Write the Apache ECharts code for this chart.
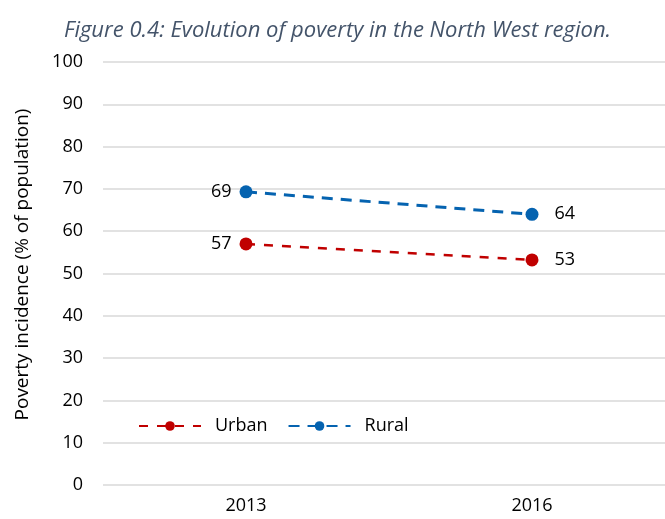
<!DOCTYPE html>
<html><head><meta charset="utf-8">
<script src="https://cdn.jsdelivr.net/npm/echarts@6/dist/echarts.min.js"></script>
<style>html,body{margin:0;padding:0;background:#fff;overflow:hidden}#c{width:675px;height:519px}</style>
</head><body><div id="c"></div>
<script>
const categories = ['2013', '2016'];
const urban = [57.0, 53.2];
const rural = [69.3, 64.0];
const titleText = 'Figure 0.4: Evolution of poverty in the North West region.';
const yName = 'Poverty incidence (% of population)';

const chart = echarts.init(document.getElementById('c'));
const font = 'Open Sans';
function pts(vals) {
  return vals.map((v, i) => ({
    value: v,
    label: { position: i === 0 ? 'left' : 'right', distance: i === 0 ? 8 : 16 }
  }));
}
const labelStyle = { show: true, fontSize: 18, color: '#000', fontFamily: font, formatter: p => Math.round(p.value) };
chart.setOption({
  animation: false,
  title: { text: titleText, left: 'center', top: 15,
    textStyle: { fontFamily: font, fontStyle: 'italic', fontWeight: 'normal', fontSize: 22, color: '#44546A' } },
  grid: { left: 103, right: 0, top: 62, bottom: 34 },
  legend: { left: 133, top: 412, itemWidth: 62, itemHeight: 12, itemGap: 20,
    textStyle: { fontFamily: font, fontSize: 18, color: '#000', padding: [0, 0, 0, 9] },
    data: ['Urban', 'Rural'] },
  xAxis: { type: 'category', data: categories, boundaryGap: true,
    axisLine: { show: false }, axisTick: { show: false },
    axisLabel: { fontFamily: font, fontSize: 18, color: '#000', margin: 12 } },
  yAxis: { type: 'value', min: 0, max: 100, interval: 10,
    name: yName, nameLocation: 'middle', nameGap: 71, nameRotate: 90,
    nameTextStyle: { fontFamily: font, fontSize: 19, color: '#000', padding: [0, 0, 0, 18] },
    axisLabel: { fontFamily: font, fontSize: 18, color: '#000', margin: 20 },
    splitLine: { lineStyle: { color: '#D9D9D9', width: 1.5 } } },
  series: [
    { name: 'Urban', type: 'line', data: pts(urban), symbol: 'circle', symbolSize: 13,
      itemStyle: { color: '#C00000' },
      lineStyle: { color: '#C00000', width: 2.5, type: [9, 9] }, label: labelStyle },
    { name: 'Rural', type: 'line', data: pts(rural), symbol: 'circle', symbolSize: 13,
      itemStyle: { color: '#0563B0' },
      lineStyle: { color: '#0563B0', width: 3, type: [11, 8] }, label: labelStyle }
  ]
});
</script></body></html>
